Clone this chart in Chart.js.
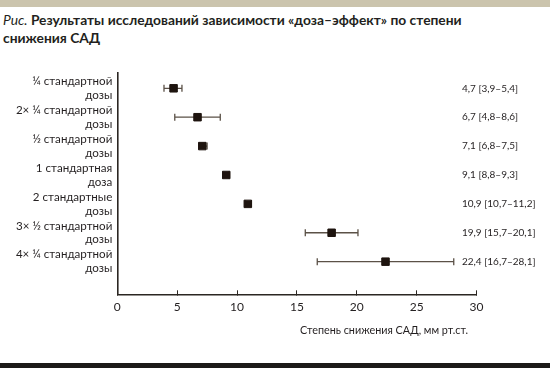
<!DOCTYPE html>
<html>
<head>
<meta charset="utf-8">
<script src="https://cdn.jsdelivr.net/npm/chart.js@4"></script>
<style>
  html, body { margin: 0; padding: 0; background: #fff; }
  #wrap { position: relative; width: 550px; height: 369px; overflow: hidden; font-family: Lato, "Open Sans", sans-serif; color: #231f20; }
  #topbar { position: absolute; left: 0; top: 0; width: 550px; height: 7px; background: #cbc4ad; }
  #botbar { position: absolute; left: 0; top: 363px; width: 550px; height: 5px; background: #1c1a18; }
  #title { position: absolute; left: 3px; top: 11px; font-size: 13.8px; font-weight: 700; line-height: 18px; }
  #title i { font-weight: 400; }
  #xtitle { position: absolute; left: 300px; top: 322px; font-size: 10.8px; line-height: 16px; white-space: nowrap; }
  canvas { position: absolute; left: 0; top: 0; }
</style>
</head>
<body>
<div id="wrap">
  <div id="topbar"></div>
  <div id="title"><i>Рис.</i> Результаты исследований зависимости «доза–эффект» по степени<br>снижения САД</div>
  <canvas id="c" width="550" height="369"></canvas>
  <div id="xtitle">Степень снижения САД, мм рт.ст.</div>
  <div id="botbar"></div>
</div>
<script>
// Categories (dose regimens), one row each
const categories = [
  ["¼ стандартной", "дозы"],
  ["2× ¼ стандартной", "дозы"],
  ["½ стандартной", "дозы"],
  ["1 стандартная", "доза"],
  ["2 стандартные", "дозы"],
  ["3× ½ стандартной", "дозы"],
  ["4× ¼ стандартной", "дозы"]
];
// Plotted point estimates (as drawn in the figure)
const pointValues = [4.7, 6.7, 7.1, 9.1, 10.9, 17.9, 22.4];
// Lower and upper bounds of the intervals
const lowerValues = [3.9, 4.8, 6.8, 8.8, 10.7, 15.7, 16.7];
const upperValues = [5.4, 8.6, 7.5, 9.3, 11.2, 20.1, 28.1];
// Right-hand value labels as printed
const valueLabels = [
  "4,7 [3,9–5,4]",
  "6,7 [4,8–8,6]",
  "7,1 [6,8–7,5]",
  "9,1 [8,8–9,3]",
  "10,9 [10,7–11,2]",
  "19,9 [15,7–20,1]",
  "22,4 [16,7–28,1]"
];
// X axis tick values
const xTicks = [0, 5, 10, 15, 20, 25, 30];

const rows = categories.map((_, i) => i + 1);
const FONT = "Lato, 'Open Sans', sans-serif";
const INK = "#231f20";

const errorBars = {
  id: "errorBars",
  beforeDatasetsDraw(chart) {
    const { ctx, scales: { x, y } } = chart;
    ctx.save();
    ctx.strokeStyle = "#5b5147";
    ctx.lineWidth = 1.3;
    rows.forEach((r, i) => {
      const py = y.getPixelForValue(r);
      const x1 = x.getPixelForValue(lowerValues[i]);
      const x2 = x.getPixelForValue(upperValues[i]);
      ctx.beginPath();
      ctx.moveTo(x1, py); ctx.lineTo(x2, py);
      ctx.moveTo(x1, py - 3.5); ctx.lineTo(x1, py + 3.5);
      ctx.moveTo(x2, py - 3.5); ctx.lineTo(x2, py + 3.5);
      ctx.stroke();
    });
    ctx.restore();
  }
};

const valueText = {
  id: "valueText",
  afterDatasetsDraw(chart) {
    const { ctx, scales: { y } } = chart;
    ctx.save();
    ctx.font = "10px " + FONT;
    ctx.fillStyle = INK;
    ctx.textAlign = "left";
    ctx.textBaseline = "middle";
    rows.forEach((r, i) => {
      ctx.fillText(valueLabels[i], 462, y.getPixelForValue(r));
    });
    ctx.restore();
  }
};

new Chart(document.getElementById("c"), {
  type: "scatter",
  data: {
    datasets: [{
      data: pointValues.map((v, i) => ({ x: v, y: rows[i] })),
      pointStyle: "rect",
      pointRadius: 5.3,
      borderWidth: 1,
      backgroundColor: "#1e140f",
      borderColor: "#1e140f"
    }]
  },
  options: {
    responsive: false,
    animation: false,
    events: [],
    layout: { padding: { left: 0, top: 73, right: 73.5, bottom: 0 } },
    plugins: { legend: { display: false }, tooltip: { enabled: false } },
    scales: {
      x: {
        type: "linear",
        min: 0, max: 30,
        afterBuildTicks: (s) => { s.ticks = xTicks.map(v => ({ value: v })); },
        afterFit: (s) => { s.height = 74.7; },
        border: { display: true, color: "#2b2622", width: 1.6 },
        grid: { display: true, drawOnChartArea: false, drawTicks: true, tickLength: -4, tickWidth: 1, tickColor: "#2b2622" },
        ticks: { font: { family: FONT, size: 12 }, color: INK, padding: 10, maxRotation: 0 }
      },
      y: {
        type: "linear",
        reverse: true,
        min: 0.47, max: 8.13,
        afterBuildTicks: (s) => { s.ticks = rows.map(v => ({ value: v })); },
        afterFit: (s) => { s.width = 117.3; },
        border: { display: true, color: "#2b2622", width: 1.6 },
        grid: { display: false, drawTicks: false },
        ticks: {
          font: { family: FONT, size: 11.6, lineHeight: 1.2 },
          color: INK,
          padding: 5,
          callback: (v) => categories[v - 1]
        }
      }
    }
  },
  plugins: [errorBars, valueText]
});
</script>
</body>
</html>
